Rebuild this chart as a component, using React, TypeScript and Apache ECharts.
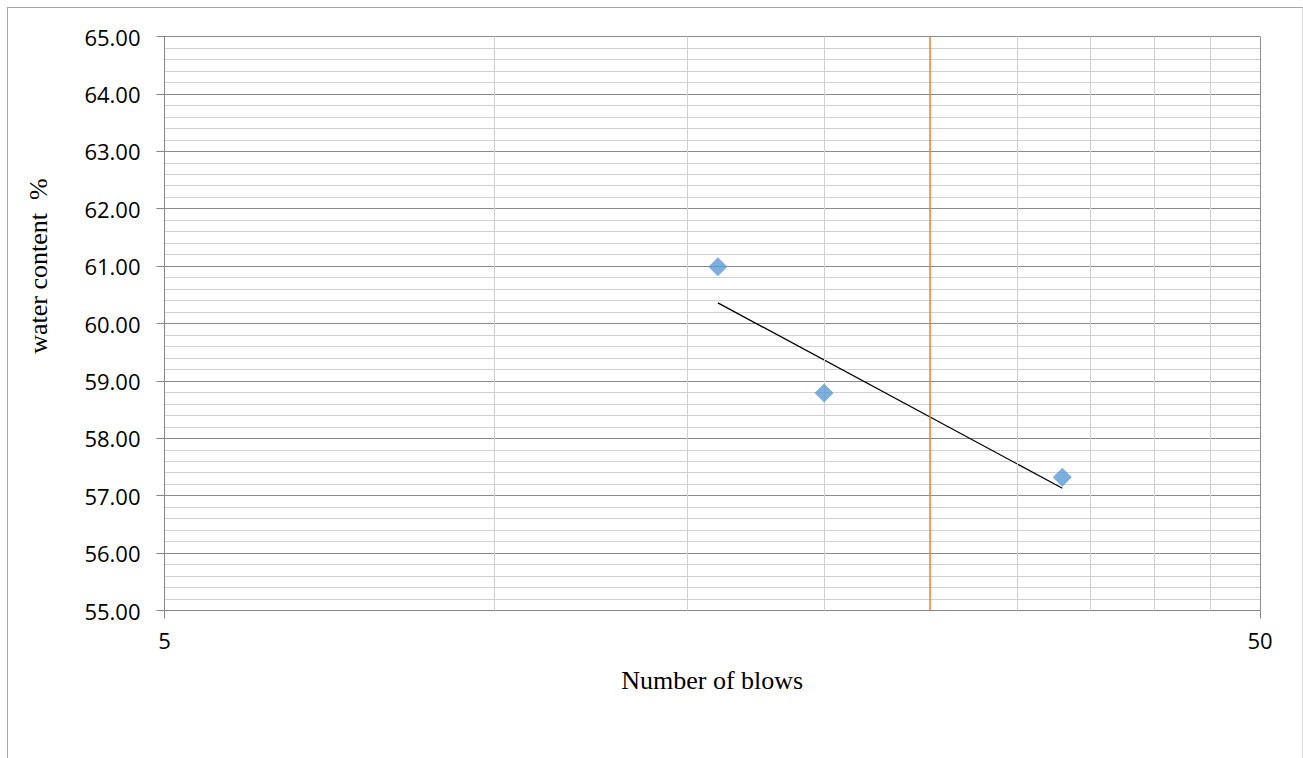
import { useEffect, useRef } from "react";
import * as echarts from "echarts";

// Data
const blows = [16, 20, 33];
const waterContent = [60.99, 58.79, 57.32];
const trendBlows = [16, 33];
const trendWater = [60.36, 57.13];
const liquidLimitBlows = 25;
const blowGridValues = [10, 15, 20, 30, 35, 40, 45];
const xTickValues = [5, 50];
const yMin = 55;
const yMax = 65;
const yStep = 1;
const xTitle = "Number of blows";
const yTitle = "water content  %";

export default function App() {
  const ref = useRef<HTMLDivElement>(null);

  useEffect(() => {
    const chart = echarts.init(ref.current!, null, { renderer: "svg" });
    const major = "#8c8c8c";
    const minor = "#d0d0d0";
    chart.setOption({
      animation: false,
      backgroundColor: "transparent",
      grid: { left: 164.5, top: 36.5, right: 43, bottom: 147.5, containLabel: false },
      graphic: [
        {
          type: "text",
          x: 38,
          y: 266,
          rotation: Math.PI / 2,
          silent: true,
          style: {
            text: yTitle,
            fontFamily: "Liberation Serif",
            fontSize: 26,
            fill: "#000",
            align: "center",
            verticalAlign: "middle",
          },
        },
      ],
      xAxis: {
        type: "log",
        logBase: 10,
        min: 5,
        max: 50,
        name: xTitle,
        nameLocation: "middle",
        nameGap: 57,
        nameTextStyle: { fontFamily: "Liberation Serif", fontSize: 26, color: "#000" },
        axisLine: { show: true, onZero: false, lineStyle: { color: "#868686", width: 1 } },
        axisTick: {
          show: true,
          inside: false,
          length: 8,
          customValues: xTickValues,
          lineStyle: { color: "#868686", width: 1 },
        },
        axisLabel: {
          customValues: xTickValues,
          margin: 18,
          fontFamily: "Open Sans",
          fontSize: 22,
          color: "#000",
          formatter: (v: number) => String(Math.round(v)),
        },
        splitLine: { show: false },
        minorTick: { show: false },
        minorSplitLine: { show: false },
      },
      yAxis: {
        type: "value",
        min: yMin,
        max: yMax,
        interval: yStep,
        axisLine: { show: true, lineStyle: { color: "#868686", width: 1 } },
        axisTick: { show: true, inside: false, length: 8, lineStyle: { color: "#868686", width: 1 } },
        axisLabel: {
          margin: 24,
          fontFamily: "Open Sans",
          fontSize: 22,
          color: "#000",
          formatter: (v: number) => v.toFixed(2),
        },
        splitLine: { show: true, lineStyle: { color: major, width: 1 } },
        minorTick: { show: false, splitNumber: 5 },
        minorSplitLine: { show: true, lineStyle: { color: minor, width: 1 } },
      },
      series: [
        {
          type: "line",
          name: "trend",
          data: trendBlows.map((b, i) => [b, trendWater[i]]),
          symbol: "none",
          silent: true,
          z: 3,
          lineStyle: { color: "#000", width: 1.3 },
          markLine: {
            silent: true,
            symbol: ["none", "none"],
            label: { show: false },
            emphasis: { disabled: true },
            data: [
              ...blowGridValues.map((v) => ({
                xAxis: v,
                lineStyle: { color: minor, width: 1, type: "solid" },
              })),
              { xAxis: 50, lineStyle: { color: major, width: 1, type: "solid" } },
              { xAxis: liquidLimitBlows, lineStyle: { color: "#ED7D31", width: 1.5, type: "solid" } },
            ],
          },
        },
        {
          type: "scatter",
          name: "water content",
          data: blows.map((b, i) => [b, waterContent[i]]),
          symbol: "diamond",
          symbolSize: 19,
          z: 5,
          itemStyle: { color: "#5B9BD5" },
        },
      ],
    });
    return () => chart.dispose();
  }, []);

  return (
    <>
      <div
        style={{
          position: "absolute",
          left: 7,
          top: 7,
          width: 1296,
          height: 751,
          boxSizing: "border-box",
          borderLeft: "1px solid #a6a6a6",
          borderTop: "1px solid #a6a6a6",
          borderRight: "1px solid #d9d9d9",
          background: "#fff",
        }}
      />
      <div
        ref={ref}
        style={{ position: "absolute", left: 0, top: 0, width: 1303, height: 758 }}
      />
    </>
  );
}
